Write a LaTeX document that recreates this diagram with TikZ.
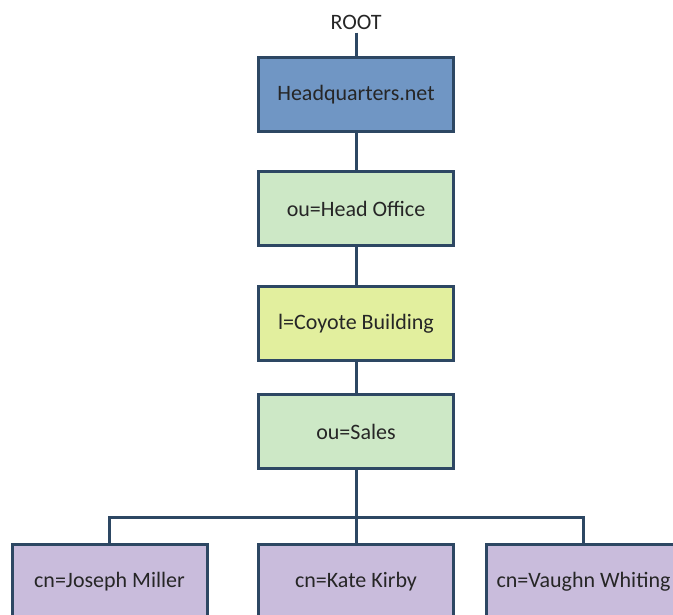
\documentclass[tikz,border=0pt]{standalone}
\usepackage{fontspec}
\setmainfont{Carlito}
\definecolor{edge}{HTML}{2D4763}
\definecolor{hqfill}{HTML}{7096C4}
\definecolor{oufill}{HTML}{CDE8C6}
\definecolor{locfill}{HTML}{E2EF9E}
\definecolor{cnfill}{HTML}{C9BCDC}
\definecolor{ink}{HTML}{262626}
\tikzset{
  label text/.style={text=ink, font=\fontsize{22}{26}\selectfont},
  entry/.style={label text, draw=edge, line width=3pt, rectangle,
    minimum width=195pt, minimum height=74pt, inner sep=0pt},
  link/.style={draw=edge, line width=3pt}
}
\begin{document}
\begin{tikzpicture}[x=1pt,y=-1pt]
  \useasboundingbox (0,0) rectangle (673,615);
  \clip (0,0) rectangle (673,615);
  % directory entries
  \node[label text] (root) at (356,22) {ROOT};
  \node[entry, fill=hqfill] (hq) at (356,94.5) {Headquarters.net};
  \node[entry, fill=oufill] (ho) at (356,208.5) {ou=Head Office};
  \node[entry, fill=locfill] (cb) at (356,323.5) {l=Coyote Building};
  \node[entry, fill=oufill] (sa) at (356,431.5) {ou=Sales};
  \node[entry, fill=cnfill] (jm) at (109.5,581.5) {cn=Joseph Miller};
  \node[entry, fill=cnfill] (kk) at (356,581.5) {cn=Kate Kirby};
  \node[entry, fill=cnfill] (vw) at (583.5,581.5) {cn=Vaughn Whiting};
  % tree connectors
  \coordinate (bus) at (356,517);
  \draw[link] (root.south) -- (hq.north);
  \draw[link] (hq) -- (ho);
  \draw[link] (ho) -- (cb);
  \draw[link] (cb) -- (sa);
  \draw[link] (sa.south) -- (bus) -- (kk.north);
  \draw[link] (jm.north) |- (bus) -| (vw.north);
\end{tikzpicture}
\end{document}
